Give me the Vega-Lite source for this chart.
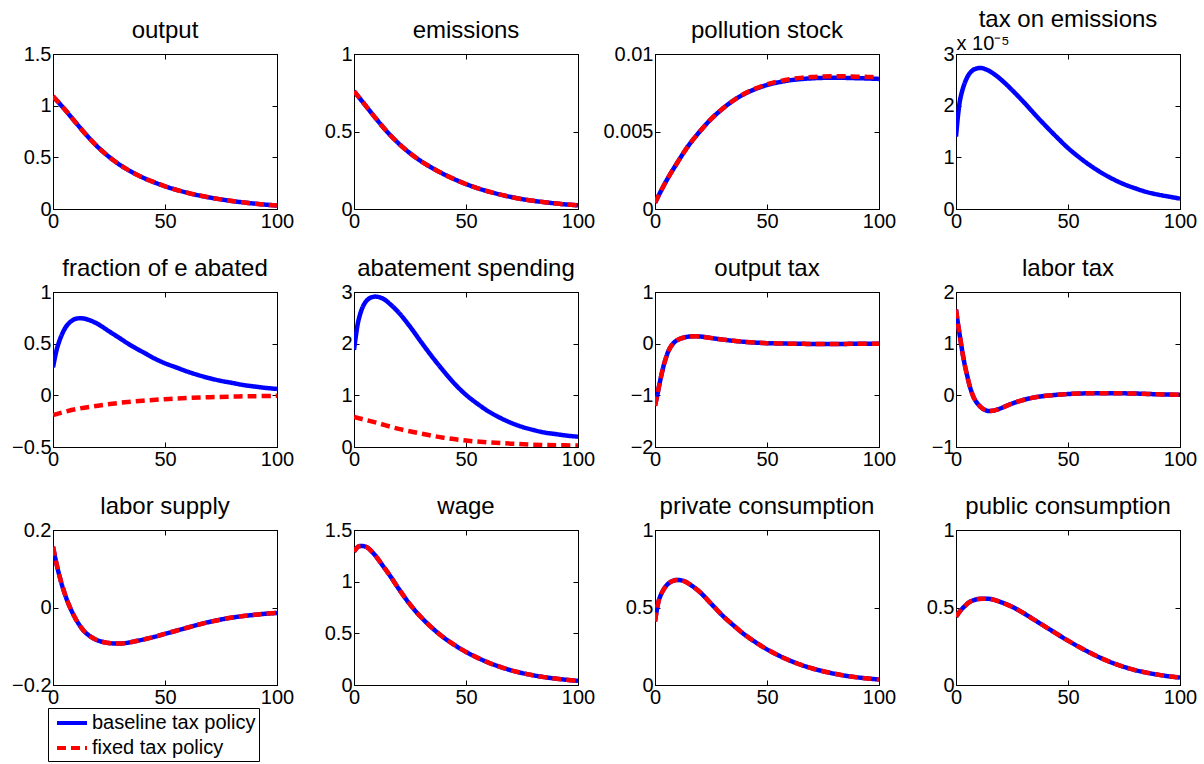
{
  "$schema": "https://vega.github.io/schema/vega-lite/v6.json",
  "background": "white",
  "padding": {"left": 11, "top": 7, "right": 5, "bottom": 5},
  "columns": 4,
  "spacing": {"row": 83, "column": 77},
  "bounds": "flush",
  "data": {"values": [
    {"panel":"output","t":0,"baseline":1.09,"fixed":1.09},
    {"panel":"output","t":5,"baseline":0.97,"fixed":0.97},
    {"panel":"output","t":10,"baseline":0.84,"fixed":0.84},
    {"panel":"output","t":15,"baseline":0.715,"fixed":0.715},
    {"panel":"output","t":20,"baseline":0.60,"fixed":0.60},
    {"panel":"output","t":25,"baseline":0.505,"fixed":0.505},
    {"panel":"output","t":30,"baseline":0.425,"fixed":0.425},
    {"panel":"output","t":35,"baseline":0.36,"fixed":0.36},
    {"panel":"output","t":40,"baseline":0.305,"fixed":0.305},
    {"panel":"output","t":45,"baseline":0.26,"fixed":0.26},
    {"panel":"output","t":50,"baseline":0.22,"fixed":0.22},
    {"panel":"output","t":55,"baseline":0.186,"fixed":0.186},
    {"panel":"output","t":60,"baseline":0.157,"fixed":0.157},
    {"panel":"output","t":65,"baseline":0.132,"fixed":0.132},
    {"panel":"output","t":70,"baseline":0.111,"fixed":0.111},
    {"panel":"output","t":75,"baseline":0.093,"fixed":0.093},
    {"panel":"output","t":80,"baseline":0.077,"fixed":0.077},
    {"panel":"output","t":85,"baseline":0.064,"fixed":0.064},
    {"panel":"output","t":90,"baseline":0.052,"fixed":0.052},
    {"panel":"output","t":95,"baseline":0.042,"fixed":0.042},
    {"panel":"output","t":100,"baseline":0.033,"fixed":0.033},

    {"panel":"emissions","t":0,"baseline":0.76,"fixed":0.76},
    {"panel":"emissions","t":5,"baseline":0.67,"fixed":0.67},
    {"panel":"emissions","t":10,"baseline":0.58,"fixed":0.58},
    {"panel":"emissions","t":15,"baseline":0.495,"fixed":0.495},
    {"panel":"emissions","t":20,"baseline":0.422,"fixed":0.422},
    {"panel":"emissions","t":25,"baseline":0.36,"fixed":0.36},
    {"panel":"emissions","t":30,"baseline":0.308,"fixed":0.308},
    {"panel":"emissions","t":35,"baseline":0.264,"fixed":0.264},
    {"panel":"emissions","t":40,"baseline":0.225,"fixed":0.225},
    {"panel":"emissions","t":45,"baseline":0.191,"fixed":0.191},
    {"panel":"emissions","t":50,"baseline":0.161,"fixed":0.161},
    {"panel":"emissions","t":55,"baseline":0.135,"fixed":0.135},
    {"panel":"emissions","t":60,"baseline":0.113,"fixed":0.113},
    {"panel":"emissions","t":65,"baseline":0.094,"fixed":0.094},
    {"panel":"emissions","t":70,"baseline":0.078,"fixed":0.078},
    {"panel":"emissions","t":75,"baseline":0.064,"fixed":0.064},
    {"panel":"emissions","t":80,"baseline":0.053,"fixed":0.053},
    {"panel":"emissions","t":85,"baseline":0.044,"fixed":0.044},
    {"panel":"emissions","t":90,"baseline":0.036,"fixed":0.036},
    {"panel":"emissions","t":95,"baseline":0.029,"fixed":0.029},
    {"panel":"emissions","t":100,"baseline":0.024,"fixed":0.024},

    {"panel":"pollution stock","t":0,"baseline":0.0004,"fixed":0.0004},
    {"panel":"pollution stock","t":5,"baseline":0.0018,"fixed":0.0018},
    {"panel":"pollution stock","t":10,"baseline":0.0030,"fixed":0.0030},
    {"panel":"pollution stock","t":15,"baseline":0.0041,"fixed":0.0041},
    {"panel":"pollution stock","t":20,"baseline":0.0050,"fixed":0.0050},
    {"panel":"pollution stock","t":25,"baseline":0.0058,"fixed":0.0058},
    {"panel":"pollution stock","t":30,"baseline":0.00645,"fixed":0.00645},
    {"panel":"pollution stock","t":35,"baseline":0.0070,"fixed":0.0070},
    {"panel":"pollution stock","t":40,"baseline":0.00743,"fixed":0.00745},
    {"panel":"pollution stock","t":45,"baseline":0.00775,"fixed":0.00778},
    {"panel":"pollution stock","t":50,"baseline":0.0080,"fixed":0.00805},
    {"panel":"pollution stock","t":55,"baseline":0.00817,"fixed":0.00823},
    {"panel":"pollution stock","t":60,"baseline":0.0083,"fixed":0.00837},
    {"panel":"pollution stock","t":65,"baseline":0.00838,"fixed":0.00846},
    {"panel":"pollution stock","t":70,"baseline":0.00843,"fixed":0.00852},
    {"panel":"pollution stock","t":75,"baseline":0.00846,"fixed":0.00855},
    {"panel":"pollution stock","t":80,"baseline":0.00847,"fixed":0.00856},
    {"panel":"pollution stock","t":85,"baseline":0.00846,"fixed":0.00856},
    {"panel":"pollution stock","t":90,"baseline":0.00844,"fixed":0.00854},
    {"panel":"pollution stock","t":95,"baseline":0.00842,"fixed":0.00852},
    {"panel":"pollution stock","t":100,"baseline":0.00839,"fixed":0.00849},

    {"panel":"tax on emissions","t":0,"baseline":1.4e-5},
    {"panel":"tax on emissions","t":1,"baseline":1.85e-5},
    {"panel":"tax on emissions","t":2,"baseline":2.15e-5},
    {"panel":"tax on emissions","t":4,"baseline":2.45e-5},
    {"panel":"tax on emissions","t":6,"baseline":2.62e-5},
    {"panel":"tax on emissions","t":8,"baseline":2.70e-5},
    {"panel":"tax on emissions","t":11,"baseline":2.73e-5},
    {"panel":"tax on emissions","t":14,"baseline":2.69e-5},
    {"panel":"tax on emissions","t":18,"baseline":2.58e-5},
    {"panel":"tax on emissions","t":22,"baseline":2.43e-5},
    {"panel":"tax on emissions","t":26,"baseline":2.26e-5},
    {"panel":"tax on emissions","t":30,"baseline":2.08e-5},
    {"panel":"tax on emissions","t":35,"baseline":1.84e-5},
    {"panel":"tax on emissions","t":40,"baseline":1.61e-5},
    {"panel":"tax on emissions","t":45,"baseline":1.39e-5},
    {"panel":"tax on emissions","t":50,"baseline":1.18e-5},
    {"panel":"tax on emissions","t":55,"baseline":1.0e-5},
    {"panel":"tax on emissions","t":60,"baseline":0.84e-5},
    {"panel":"tax on emissions","t":65,"baseline":0.70e-5},
    {"panel":"tax on emissions","t":70,"baseline":0.58e-5},
    {"panel":"tax on emissions","t":75,"baseline":0.48e-5},
    {"panel":"tax on emissions","t":80,"baseline":0.40e-5},
    {"panel":"tax on emissions","t":85,"baseline":0.33e-5},
    {"panel":"tax on emissions","t":90,"baseline":0.28e-5},
    {"panel":"tax on emissions","t":95,"baseline":0.24e-5},
    {"panel":"tax on emissions","t":100,"baseline":0.20e-5},

    {"panel":"fraction","t":0,"baseline":0.27,"fixed":-0.19},
    {"panel":"fraction","t":1,"baseline":0.38},
    {"panel":"fraction","t":2,"baseline":0.47},
    {"panel":"fraction","t":4,"baseline":0.59},
    {"panel":"fraction","t":6,"baseline":0.67},
    {"panel":"fraction","t":8,"baseline":0.715},
    {"panel":"fraction","t":10,"baseline":0.74,"fixed":-0.135},
    {"panel":"fraction","t":13,"baseline":0.745},
    {"panel":"fraction","t":16,"baseline":0.73},
    {"panel":"fraction","t":20,"baseline":0.69,"fixed":-0.1},
    {"panel":"fraction","t":25,"baseline":0.62},
    {"panel":"fraction","t":30,"baseline":0.55,"fixed":-0.072},
    {"panel":"fraction","t":35,"baseline":0.48},
    {"panel":"fraction","t":40,"baseline":0.42,"fixed":-0.052},
    {"panel":"fraction","t":45,"baseline":0.36},
    {"panel":"fraction","t":50,"baseline":0.31,"fixed":-0.037},
    {"panel":"fraction","t":55,"baseline":0.27},
    {"panel":"fraction","t":60,"baseline":0.23,"fixed":-0.026},
    {"panel":"fraction","t":65,"baseline":0.195},
    {"panel":"fraction","t":70,"baseline":0.165,"fixed":-0.018},
    {"panel":"fraction","t":75,"baseline":0.14},
    {"panel":"fraction","t":80,"baseline":0.12,"fixed":-0.012},
    {"panel":"fraction","t":85,"baseline":0.1},
    {"panel":"fraction","t":90,"baseline":0.085,"fixed":-0.008},
    {"panel":"fraction","t":95,"baseline":0.072},
    {"panel":"fraction","t":100,"baseline":0.062,"fixed":-0.005},

    {"panel":"abatement spending","t":0,"baseline":1.88,"fixed":0.58},
    {"panel":"abatement spending","t":1,"baseline":2.2},
    {"panel":"abatement spending","t":2,"baseline":2.45},
    {"panel":"abatement spending","t":4,"baseline":2.72},
    {"panel":"abatement spending","t":6,"baseline":2.85},
    {"panel":"abatement spending","t":8,"baseline":2.9},
    {"panel":"abatement spending","t":10,"baseline":2.91,"fixed":0.47},
    {"panel":"abatement spending","t":13,"baseline":2.87},
    {"panel":"abatement spending","t":16,"baseline":2.77},
    {"panel":"abatement spending","t":20,"baseline":2.6,"fixed":0.35},
    {"panel":"abatement spending","t":25,"baseline":2.33},
    {"panel":"abatement spending","t":30,"baseline":2.03,"fixed":0.26},
    {"panel":"abatement spending","t":35,"baseline":1.74},
    {"panel":"abatement spending","t":40,"baseline":1.47,"fixed":0.18},
    {"panel":"abatement spending","t":45,"baseline":1.22},
    {"panel":"abatement spending","t":50,"baseline":1.01,"fixed":0.125},
    {"panel":"abatement spending","t":55,"baseline":0.84},
    {"panel":"abatement spending","t":60,"baseline":0.69,"fixed":0.09},
    {"panel":"abatement spending","t":65,"baseline":0.57},
    {"panel":"abatement spending","t":70,"baseline":0.47,"fixed":0.065},
    {"panel":"abatement spending","t":75,"baseline":0.39},
    {"panel":"abatement spending","t":80,"baseline":0.33,"fixed":0.045},
    {"panel":"abatement spending","t":85,"baseline":0.28},
    {"panel":"abatement spending","t":90,"baseline":0.25,"fixed":0.035},
    {"panel":"abatement spending","t":95,"baseline":0.22},
    {"panel":"abatement spending","t":100,"baseline":0.2,"fixed":0.03},

    {"panel":"output tax","t":0,"baseline":-1.2,"fixed":-1.2},
    {"panel":"output tax","t":1,"baseline":-1.0,"fixed":-1.0},
    {"panel":"output tax","t":2,"baseline":-0.78,"fixed":-0.78},
    {"panel":"output tax","t":3,"baseline":-0.58,"fixed":-0.58},
    {"panel":"output tax","t":4,"baseline":-0.4,"fixed":-0.4},
    {"panel":"output tax","t":5,"baseline":-0.26,"fixed":-0.26},
    {"panel":"output tax","t":6,"baseline":-0.14,"fixed":-0.14},
    {"panel":"output tax","t":8,"baseline":0.0,"fixed":0.0},
    {"panel":"output tax","t":10,"baseline":0.07,"fixed":0.07},
    {"panel":"output tax","t":13,"baseline":0.12,"fixed":0.12},
    {"panel":"output tax","t":16,"baseline":0.14,"fixed":0.14},
    {"panel":"output tax","t":20,"baseline":0.14,"fixed":0.14},
    {"panel":"output tax","t":25,"baseline":0.11,"fixed":0.11},
    {"panel":"output tax","t":30,"baseline":0.08,"fixed":0.08},
    {"panel":"output tax","t":35,"baseline":0.055,"fixed":0.055},
    {"panel":"output tax","t":40,"baseline":0.035,"fixed":0.035},
    {"panel":"output tax","t":45,"baseline":0.02,"fixed":0.02},
    {"panel":"output tax","t":50,"baseline":0.01,"fixed":0.01},
    {"panel":"output tax","t":60,"baseline":0.0,"fixed":0.0},
    {"panel":"output tax","t":70,"baseline":-0.005,"fixed":-0.005},
    {"panel":"output tax","t":80,"baseline":-0.005,"fixed":-0.005},
    {"panel":"output tax","t":90,"baseline":-0.003,"fixed":-0.003},
    {"panel":"output tax","t":100,"baseline":0.0,"fixed":0.0},

    {"panel":"labor tax","t":0,"baseline":1.66,"fixed":1.66},
    {"panel":"labor tax","t":1,"baseline":1.35,"fixed":1.35},
    {"panel":"labor tax","t":2,"baseline":1.07,"fixed":1.07},
    {"panel":"labor tax","t":3,"baseline":0.8,"fixed":0.8},
    {"panel":"labor tax","t":4,"baseline":0.57,"fixed":0.57},
    {"panel":"labor tax","t":5,"baseline":0.38,"fixed":0.38},
    {"panel":"labor tax","t":6,"baseline":0.2,"fixed":0.2},
    {"panel":"labor tax","t":8,"baseline":-0.05,"fixed":-0.05},
    {"panel":"labor tax","t":10,"baseline":-0.18,"fixed":-0.18},
    {"panel":"labor tax","t":12,"baseline":-0.26,"fixed":-0.26},
    {"panel":"labor tax","t":14,"baseline":-0.3,"fixed":-0.3},
    {"panel":"labor tax","t":16,"baseline":-0.3,"fixed":-0.3},
    {"panel":"labor tax","t":18,"baseline":-0.28,"fixed":-0.28},
    {"panel":"labor tax","t":20,"baseline":-0.25,"fixed":-0.25},
    {"panel":"labor tax","t":25,"baseline":-0.16,"fixed":-0.16},
    {"panel":"labor tax","t":30,"baseline":-0.09,"fixed":-0.09},
    {"panel":"labor tax","t":35,"baseline":-0.04,"fixed":-0.04},
    {"panel":"labor tax","t":40,"baseline":-0.01,"fixed":-0.01},
    {"panel":"labor tax","t":45,"baseline":0.01,"fixed":0.01},
    {"panel":"labor tax","t":50,"baseline":0.025,"fixed":0.025},
    {"panel":"labor tax","t":55,"baseline":0.035,"fixed":0.035},
    {"panel":"labor tax","t":60,"baseline":0.04,"fixed":0.04},
    {"panel":"labor tax","t":65,"baseline":0.04,"fixed":0.04},
    {"panel":"labor tax","t":70,"baseline":0.04,"fixed":0.04},
    {"panel":"labor tax","t":80,"baseline":0.035,"fixed":0.035},
    {"panel":"labor tax","t":90,"baseline":0.02,"fixed":0.02},
    {"panel":"labor tax","t":100,"baseline":0.01,"fixed":0.01},

    {"panel":"labor supply","t":0,"baseline":0.157,"fixed":0.157},
    {"panel":"labor supply","t":1,"baseline":0.128,"fixed":0.128},
    {"panel":"labor supply","t":2,"baseline":0.102,"fixed":0.102},
    {"panel":"labor supply","t":3,"baseline":0.079,"fixed":0.079},
    {"panel":"labor supply","t":4,"baseline":0.058,"fixed":0.058},
    {"panel":"labor supply","t":5,"baseline":0.04,"fixed":0.04},
    {"panel":"labor supply","t":6,"baseline":0.023,"fixed":0.023},
    {"panel":"labor supply","t":8,"baseline":-0.005,"fixed":-0.005},
    {"panel":"labor supply","t":10,"baseline":-0.028,"fixed":-0.028},
    {"panel":"labor supply","t":12,"baseline":-0.047,"fixed":-0.047},
    {"panel":"labor supply","t":14,"baseline":-0.062,"fixed":-0.062},
    {"panel":"labor supply","t":17,"baseline":-0.076,"fixed":-0.076},
    {"panel":"labor supply","t":20,"baseline":-0.085,"fixed":-0.085},
    {"panel":"labor supply","t":24,"baseline":-0.091,"fixed":-0.091},
    {"panel":"labor supply","t":28,"baseline":-0.093,"fixed":-0.093},
    {"panel":"labor supply","t":32,"baseline":-0.092,"fixed":-0.092},
    {"panel":"labor supply","t":36,"baseline":-0.088,"fixed":-0.088},
    {"panel":"labor supply","t":40,"baseline":-0.083,"fixed":-0.083},
    {"panel":"labor supply","t":45,"baseline":-0.076,"fixed":-0.076},
    {"panel":"labor supply","t":50,"baseline":-0.068,"fixed":-0.068},
    {"panel":"labor supply","t":55,"baseline":-0.06,"fixed":-0.06},
    {"panel":"labor supply","t":60,"baseline":-0.052,"fixed":-0.052},
    {"panel":"labor supply","t":65,"baseline":-0.044,"fixed":-0.044},
    {"panel":"labor supply","t":70,"baseline":-0.037,"fixed":-0.037},
    {"panel":"labor supply","t":75,"baseline":-0.031,"fixed":-0.031},
    {"panel":"labor supply","t":80,"baseline":-0.026,"fixed":-0.026},
    {"panel":"labor supply","t":85,"baseline":-0.022,"fixed":-0.022},
    {"panel":"labor supply","t":90,"baseline":-0.019,"fixed":-0.019},
    {"panel":"labor supply","t":95,"baseline":-0.016,"fixed":-0.016},
    {"panel":"labor supply","t":100,"baseline":-0.014,"fixed":-0.014},

    {"panel":"wage","t":0,"baseline":1.29,"fixed":1.29},
    {"panel":"wage","t":1,"baseline":1.32,"fixed":1.32},
    {"panel":"wage","t":2,"baseline":1.34,"fixed":1.34},
    {"panel":"wage","t":4,"baseline":1.345,"fixed":1.345},
    {"panel":"wage","t":6,"baseline":1.33,"fixed":1.33},
    {"panel":"wage","t":8,"baseline":1.29,"fixed":1.29},
    {"panel":"wage","t":10,"baseline":1.24,"fixed":1.24},
    {"panel":"wage","t":13,"baseline":1.15,"fixed":1.15},
    {"panel":"wage","t":16,"baseline":1.06,"fixed":1.06},
    {"panel":"wage","t":20,"baseline":0.93,"fixed":0.93},
    {"panel":"wage","t":25,"baseline":0.78,"fixed":0.78},
    {"panel":"wage","t":30,"baseline":0.655,"fixed":0.655},
    {"panel":"wage","t":35,"baseline":0.55,"fixed":0.55},
    {"panel":"wage","t":40,"baseline":0.46,"fixed":0.46},
    {"panel":"wage","t":45,"baseline":0.385,"fixed":0.385},
    {"panel":"wage","t":50,"baseline":0.32,"fixed":0.32},
    {"panel":"wage","t":55,"baseline":0.265,"fixed":0.265},
    {"panel":"wage","t":60,"baseline":0.217,"fixed":0.217},
    {"panel":"wage","t":65,"baseline":0.177,"fixed":0.177},
    {"panel":"wage","t":70,"baseline":0.143,"fixed":0.143},
    {"panel":"wage","t":75,"baseline":0.116,"fixed":0.116},
    {"panel":"wage","t":80,"baseline":0.094,"fixed":0.094},
    {"panel":"wage","t":85,"baseline":0.076,"fixed":0.076},
    {"panel":"wage","t":90,"baseline":0.062,"fixed":0.062},
    {"panel":"wage","t":95,"baseline":0.05,"fixed":0.05},
    {"panel":"wage","t":100,"baseline":0.04,"fixed":0.04},

    {"panel":"private consumption","t":0,"baseline":0.41,"fixed":0.41},
    {"panel":"private consumption","t":1,"baseline":0.5,"fixed":0.5},
    {"panel":"private consumption","t":2,"baseline":0.56,"fixed":0.56},
    {"panel":"private consumption","t":4,"baseline":0.62,"fixed":0.62},
    {"panel":"private consumption","t":6,"baseline":0.655,"fixed":0.655},
    {"panel":"private consumption","t":8,"baseline":0.672,"fixed":0.672},
    {"panel":"private consumption","t":10,"baseline":0.678,"fixed":0.678},
    {"panel":"private consumption","t":13,"baseline":0.67,"fixed":0.67},
    {"panel":"private consumption","t":16,"baseline":0.645,"fixed":0.645},
    {"panel":"private consumption","t":20,"baseline":0.6,"fixed":0.6},
    {"panel":"private consumption","t":25,"baseline":0.525,"fixed":0.525},
    {"panel":"private consumption","t":30,"baseline":0.45,"fixed":0.45},
    {"panel":"private consumption","t":35,"baseline":0.385,"fixed":0.385},
    {"panel":"private consumption","t":40,"baseline":0.325,"fixed":0.325},
    {"panel":"private consumption","t":45,"baseline":0.275,"fixed":0.275},
    {"panel":"private consumption","t":50,"baseline":0.23,"fixed":0.23},
    {"panel":"private consumption","t":55,"baseline":0.192,"fixed":0.192},
    {"panel":"private consumption","t":60,"baseline":0.159,"fixed":0.159},
    {"panel":"private consumption","t":65,"baseline":0.131,"fixed":0.131},
    {"panel":"private consumption","t":70,"baseline":0.108,"fixed":0.108},
    {"panel":"private consumption","t":75,"baseline":0.089,"fixed":0.089},
    {"panel":"private consumption","t":80,"baseline":0.073,"fixed":0.073},
    {"panel":"private consumption","t":85,"baseline":0.06,"fixed":0.06},
    {"panel":"private consumption","t":90,"baseline":0.05,"fixed":0.05},
    {"panel":"private consumption","t":95,"baseline":0.042,"fixed":0.042},
    {"panel":"private consumption","t":100,"baseline":0.036,"fixed":0.036},

    {"panel":"public consumption","t":0,"baseline":0.44,"fixed":0.44},
    {"panel":"public consumption","t":2,"baseline":0.48,"fixed":0.48},
    {"panel":"public consumption","t":4,"baseline":0.51,"fixed":0.51},
    {"panel":"public consumption","t":6,"baseline":0.535,"fixed":0.535},
    {"panel":"public consumption","t":8,"baseline":0.548,"fixed":0.548},
    {"panel":"public consumption","t":10,"baseline":0.555,"fixed":0.555},
    {"panel":"public consumption","t":13,"baseline":0.557,"fixed":0.557},
    {"panel":"public consumption","t":16,"baseline":0.553,"fixed":0.553},
    {"panel":"public consumption","t":20,"baseline":0.535,"fixed":0.535},
    {"panel":"public consumption","t":25,"baseline":0.505,"fixed":0.505},
    {"panel":"public consumption","t":30,"baseline":0.465,"fixed":0.465},
    {"panel":"public consumption","t":35,"baseline":0.42,"fixed":0.42},
    {"panel":"public consumption","t":40,"baseline":0.375,"fixed":0.375},
    {"panel":"public consumption","t":45,"baseline":0.33,"fixed":0.33},
    {"panel":"public consumption","t":50,"baseline":0.286,"fixed":0.286},
    {"panel":"public consumption","t":55,"baseline":0.245,"fixed":0.245},
    {"panel":"public consumption","t":60,"baseline":0.207,"fixed":0.207},
    {"panel":"public consumption","t":65,"baseline":0.172,"fixed":0.172},
    {"panel":"public consumption","t":70,"baseline":0.142,"fixed":0.142},
    {"panel":"public consumption","t":75,"baseline":0.117,"fixed":0.117},
    {"panel":"public consumption","t":80,"baseline":0.096,"fixed":0.096},
    {"panel":"public consumption","t":85,"baseline":0.08,"fixed":0.08},
    {"panel":"public consumption","t":90,"baseline":0.067,"fixed":0.067},
    {"panel":"public consumption","t":95,"baseline":0.056,"fixed":0.056},
    {"panel":"public consumption","t":100,"baseline":0.048,"fixed":0.048}
  ]},
  "concat": [
    {"title":"output","width":224,"height":155,
     "transform":[{"filter":"datum.panel === 'output'"},{"fold":["baseline","fixed"],"as":["policy","value"]},{"filter":"isValid(datum.value)"}],
     "layer":[
      {"mark":{"type":"line","strokeWidth":4.5,"interpolate":"catmull-rom","clip":true},
       "encoding":{"x":{"field":"t","type":"quantitative","scale":{"domain":[0,100],"nice":false},"axis":{"values":[0,50,100],"title":null}},
        "y":{"field":"value","type":"quantitative","scale":{"domain":[0,1.5],"nice":false},"axis":{"values":[0,0.5,1,1.5],"title":null,"format":"~g"}},
        "color":{"field":"policy","type":"nominal","scale":{"domain":["baseline","fixed"],"range":["#0000ff","#ff0000"]},"legend":{"labelExpr":"datum.label === 'baseline' ? 'baseline tax policy' : 'fixed tax policy'"}},
        "strokeDash":{"field":"policy","type":"nominal","scale":{"domain":["baseline","fixed"],"range":[[1,0],[9,5]]}}}},
      {"mark":{"type":"point","opacity":0},
       "encoding":{"x":{"field":"t","type":"quantitative","axis":{"orient":"top","values":[0,50,100],"labels":false,"title":null}},
        "y":{"field":"value","type":"quantitative","axis":{"orient":"right","values":[0,0.5,1,1.5],"labels":false,"title":null}}}}
     ],
     "resolve":{"axis":{"x":"independent","y":"independent"}}},
    {"title":"emissions","width":224,"height":155,
     "transform":[{"filter":"datum.panel === 'emissions'"},{"fold":["baseline","fixed"],"as":["policy","value"]},{"filter":"isValid(datum.value)"}],
     "layer":[
      {"mark":{"type":"line","strokeWidth":4.5,"interpolate":"catmull-rom","clip":true},
       "encoding":{"x":{"field":"t","type":"quantitative","scale":{"domain":[0,100],"nice":false},"axis":{"values":[0,50,100],"title":null}},
        "y":{"field":"value","type":"quantitative","scale":{"domain":[0,1],"nice":false},"axis":{"values":[0,0.5,1],"title":null,"format":"~g"}},
        "color":{"field":"policy","type":"nominal","scale":{"domain":["baseline","fixed"],"range":["#0000ff","#ff0000"]},"legend":{"labelExpr":"datum.label === 'baseline' ? 'baseline tax policy' : 'fixed tax policy'"}},
        "strokeDash":{"field":"policy","type":"nominal","scale":{"domain":["baseline","fixed"],"range":[[1,0],[9,5]]}}}},
      {"mark":{"type":"point","opacity":0},
       "encoding":{"x":{"field":"t","type":"quantitative","axis":{"orient":"top","values":[0,50,100],"labels":false,"title":null}},
        "y":{"field":"value","type":"quantitative","axis":{"orient":"right","values":[0,0.5,1],"labels":false,"title":null}}}}
     ],
     "resolve":{"axis":{"x":"independent","y":"independent"}}},
    {"title":"pollution stock","width":224,"height":155,
     "transform":[{"filter":"datum.panel === 'pollution stock'"},{"fold":["baseline","fixed"],"as":["policy","value"]},{"filter":"isValid(datum.value)"}],
     "layer":[
      {"mark":{"type":"line","strokeWidth":4.5,"interpolate":"catmull-rom","clip":true},
       "encoding":{"x":{"field":"t","type":"quantitative","scale":{"domain":[0,100],"nice":false},"axis":{"values":[0,50,100],"title":null}},
        "y":{"field":"value","type":"quantitative","scale":{"domain":[0,0.01],"nice":false},"axis":{"values":[0,0.005,0.01],"title":null,"format":"~g"}},
        "color":{"field":"policy","type":"nominal","scale":{"domain":["baseline","fixed"],"range":["#0000ff","#ff0000"]},"legend":{"labelExpr":"datum.label === 'baseline' ? 'baseline tax policy' : 'fixed tax policy'"}},
        "strokeDash":{"field":"policy","type":"nominal","scale":{"domain":["baseline","fixed"],"range":[[1,0],[9,5]]}}}},
      {"mark":{"type":"point","opacity":0},
       "encoding":{"x":{"field":"t","type":"quantitative","axis":{"orient":"top","values":[0,50,100],"labels":false,"title":null}},
        "y":{"field":"value","type":"quantitative","axis":{"orient":"right","values":[0,0.005,0.01],"labels":false,"title":null}}}}
     ],
     "resolve":{"axis":{"x":"independent","y":"independent"}}},
    {"title":"tax on emissions","width":224,"height":155,
     "transform":[{"filter":"datum.panel === 'tax on emissions'"},{"fold":["baseline","fixed"],"as":["policy","value"]},{"filter":"isValid(datum.value)"}],
     "layer":[
      {"mark":{"type":"line","strokeWidth":4.5,"interpolate":"catmull-rom","clip":true},
       "encoding":{"x":{"field":"t","type":"quantitative","scale":{"domain":[0,100],"nice":false},"axis":{"values":[0,50,100],"title":null}},
        "y":{"field":"value","type":"quantitative","scale":{"domain":[0,0.00003],"nice":false},"axis":{"values":[0,0.00001,0.00002,0.00003],"labelExpr":"format(datum.value * 100000, '.0f')","title":"x 10\u207b\u2075","titleAngle":0,"titleAlign":"left","titleBaseline":"alphabetic","titleX":0,"titleY":-5,"titleFontSize":20,"titleFontWeight":"normal"}},
        "color":{"field":"policy","type":"nominal","scale":{"domain":["baseline","fixed"],"range":["#0000ff","#ff0000"]},"legend":{"labelExpr":"datum.label === 'baseline' ? 'baseline tax policy' : 'fixed tax policy'"}},
        "strokeDash":{"field":"policy","type":"nominal","scale":{"domain":["baseline","fixed"],"range":[[1,0],[9,5]]}}}},
      {"mark":{"type":"point","opacity":0},
       "encoding":{"x":{"field":"t","type":"quantitative","axis":{"orient":"top","values":[0,50,100],"labels":false,"title":null}},
        "y":{"field":"value","type":"quantitative","axis":{"orient":"right","values":[0,0.00001,0.00002,0.00003],"labels":false,"title":null}}}}
     ],
     "resolve":{"axis":{"x":"independent","y":"independent"}}},
    {"title":"fraction of e abated","width":224,"height":155,
     "transform":[{"filter":"datum.panel === 'fraction'"},{"fold":["baseline","fixed"],"as":["policy","value"]},{"filter":"isValid(datum.value)"}],
     "layer":[
      {"mark":{"type":"line","strokeWidth":4.5,"interpolate":"catmull-rom","clip":true},
       "encoding":{"x":{"field":"t","type":"quantitative","scale":{"domain":[0,100],"nice":false},"axis":{"values":[0,50,100],"title":null}},
        "y":{"field":"value","type":"quantitative","scale":{"domain":[-0.5,1],"nice":false},"axis":{"values":[-0.5,0,0.5,1],"title":null,"format":"~g"}},
        "color":{"field":"policy","type":"nominal","scale":{"domain":["baseline","fixed"],"range":["#0000ff","#ff0000"]},"legend":{"labelExpr":"datum.label === 'baseline' ? 'baseline tax policy' : 'fixed tax policy'"}},
        "strokeDash":{"field":"policy","type":"nominal","scale":{"domain":["baseline","fixed"],"range":[[1,0],[9,5]]}}}},
      {"mark":{"type":"point","opacity":0},
       "encoding":{"x":{"field":"t","type":"quantitative","axis":{"orient":"top","values":[0,50,100],"labels":false,"title":null}},
        "y":{"field":"value","type":"quantitative","axis":{"orient":"right","values":[-0.5,0,0.5,1],"labels":false,"title":null}}}}
     ],
     "resolve":{"axis":{"x":"independent","y":"independent"}}},
    {"title":"abatement spending","width":224,"height":155,
     "transform":[{"filter":"datum.panel === 'abatement spending'"},{"fold":["baseline","fixed"],"as":["policy","value"]},{"filter":"isValid(datum.value)"}],
     "layer":[
      {"mark":{"type":"line","strokeWidth":4.5,"interpolate":"catmull-rom","clip":true},
       "encoding":{"x":{"field":"t","type":"quantitative","scale":{"domain":[0,100],"nice":false},"axis":{"values":[0,50,100],"title":null}},
        "y":{"field":"value","type":"quantitative","scale":{"domain":[0,3],"nice":false},"axis":{"values":[0,1,2,3],"title":null,"format":"~g"}},
        "color":{"field":"policy","type":"nominal","scale":{"domain":["baseline","fixed"],"range":["#0000ff","#ff0000"]},"legend":{"labelExpr":"datum.label === 'baseline' ? 'baseline tax policy' : 'fixed tax policy'"}},
        "strokeDash":{"field":"policy","type":"nominal","scale":{"domain":["baseline","fixed"],"range":[[1,0],[9,5]]}}}},
      {"mark":{"type":"point","opacity":0},
       "encoding":{"x":{"field":"t","type":"quantitative","axis":{"orient":"top","values":[0,50,100],"labels":false,"title":null}},
        "y":{"field":"value","type":"quantitative","axis":{"orient":"right","values":[0,1,2,3],"labels":false,"title":null}}}}
     ],
     "resolve":{"axis":{"x":"independent","y":"independent"}}},
    {"title":"output tax","width":224,"height":155,
     "transform":[{"filter":"datum.panel === 'output tax'"},{"fold":["baseline","fixed"],"as":["policy","value"]},{"filter":"isValid(datum.value)"}],
     "layer":[
      {"mark":{"type":"line","strokeWidth":4.5,"interpolate":"catmull-rom","clip":true},
       "encoding":{"x":{"field":"t","type":"quantitative","scale":{"domain":[0,100],"nice":false},"axis":{"values":[0,50,100],"title":null}},
        "y":{"field":"value","type":"quantitative","scale":{"domain":[-2,1],"nice":false},"axis":{"values":[-2,-1,0,1],"title":null,"format":"~g"}},
        "color":{"field":"policy","type":"nominal","scale":{"domain":["baseline","fixed"],"range":["#0000ff","#ff0000"]},"legend":{"labelExpr":"datum.label === 'baseline' ? 'baseline tax policy' : 'fixed tax policy'"}},
        "strokeDash":{"field":"policy","type":"nominal","scale":{"domain":["baseline","fixed"],"range":[[1,0],[9,5]]}}}},
      {"mark":{"type":"point","opacity":0},
       "encoding":{"x":{"field":"t","type":"quantitative","axis":{"orient":"top","values":[0,50,100],"labels":false,"title":null}},
        "y":{"field":"value","type":"quantitative","axis":{"orient":"right","values":[-2,-1,0,1],"labels":false,"title":null}}}}
     ],
     "resolve":{"axis":{"x":"independent","y":"independent"}}},
    {"title":"labor tax","width":224,"height":155,
     "transform":[{"filter":"datum.panel === 'labor tax'"},{"fold":["baseline","fixed"],"as":["policy","value"]},{"filter":"isValid(datum.value)"}],
     "layer":[
      {"mark":{"type":"line","strokeWidth":4.5,"interpolate":"catmull-rom","clip":true},
       "encoding":{"x":{"field":"t","type":"quantitative","scale":{"domain":[0,100],"nice":false},"axis":{"values":[0,50,100],"title":null}},
        "y":{"field":"value","type":"quantitative","scale":{"domain":[-1,2],"nice":false},"axis":{"values":[-1,0,1,2],"title":null,"format":"~g"}},
        "color":{"field":"policy","type":"nominal","scale":{"domain":["baseline","fixed"],"range":["#0000ff","#ff0000"]},"legend":{"labelExpr":"datum.label === 'baseline' ? 'baseline tax policy' : 'fixed tax policy'"}},
        "strokeDash":{"field":"policy","type":"nominal","scale":{"domain":["baseline","fixed"],"range":[[1,0],[9,5]]}}}},
      {"mark":{"type":"point","opacity":0},
       "encoding":{"x":{"field":"t","type":"quantitative","axis":{"orient":"top","values":[0,50,100],"labels":false,"title":null}},
        "y":{"field":"value","type":"quantitative","axis":{"orient":"right","values":[-1,0,1,2],"labels":false,"title":null}}}}
     ],
     "resolve":{"axis":{"x":"independent","y":"independent"}}},
    {"title":"labor supply","width":224,"height":155,
     "transform":[{"filter":"datum.panel === 'labor supply'"},{"fold":["baseline","fixed"],"as":["policy","value"]},{"filter":"isValid(datum.value)"}],
     "layer":[
      {"mark":{"type":"line","strokeWidth":4.5,"interpolate":"catmull-rom","clip":true},
       "encoding":{"x":{"field":"t","type":"quantitative","scale":{"domain":[0,100],"nice":false},"axis":{"values":[0,50,100],"title":null}},
        "y":{"field":"value","type":"quantitative","scale":{"domain":[-0.2,0.2],"nice":false},"axis":{"values":[-0.2,0,0.2],"title":null,"format":"~g"}},
        "color":{"field":"policy","type":"nominal","scale":{"domain":["baseline","fixed"],"range":["#0000ff","#ff0000"]},"legend":{"labelExpr":"datum.label === 'baseline' ? 'baseline tax policy' : 'fixed tax policy'"}},
        "strokeDash":{"field":"policy","type":"nominal","scale":{"domain":["baseline","fixed"],"range":[[1,0],[9,5]]}}}},
      {"mark":{"type":"point","opacity":0},
       "encoding":{"x":{"field":"t","type":"quantitative","axis":{"orient":"top","values":[0,50,100],"labels":false,"title":null}},
        "y":{"field":"value","type":"quantitative","axis":{"orient":"right","values":[-0.2,0,0.2],"labels":false,"title":null}}}}
     ],
     "resolve":{"axis":{"x":"independent","y":"independent"}}},
    {"title":"wage","width":224,"height":155,
     "transform":[{"filter":"datum.panel === 'wage'"},{"fold":["baseline","fixed"],"as":["policy","value"]},{"filter":"isValid(datum.value)"}],
     "layer":[
      {"mark":{"type":"line","strokeWidth":4.5,"interpolate":"catmull-rom","clip":true},
       "encoding":{"x":{"field":"t","type":"quantitative","scale":{"domain":[0,100],"nice":false},"axis":{"values":[0,50,100],"title":null}},
        "y":{"field":"value","type":"quantitative","scale":{"domain":[0,1.5],"nice":false},"axis":{"values":[0,0.5,1,1.5],"title":null,"format":"~g"}},
        "color":{"field":"policy","type":"nominal","scale":{"domain":["baseline","fixed"],"range":["#0000ff","#ff0000"]},"legend":{"labelExpr":"datum.label === 'baseline' ? 'baseline tax policy' : 'fixed tax policy'"}},
        "strokeDash":{"field":"policy","type":"nominal","scale":{"domain":["baseline","fixed"],"range":[[1,0],[9,5]]}}}},
      {"mark":{"type":"point","opacity":0},
       "encoding":{"x":{"field":"t","type":"quantitative","axis":{"orient":"top","values":[0,50,100],"labels":false,"title":null}},
        "y":{"field":"value","type":"quantitative","axis":{"orient":"right","values":[0,0.5,1,1.5],"labels":false,"title":null}}}}
     ],
     "resolve":{"axis":{"x":"independent","y":"independent"}}},
    {"title":"private consumption","width":224,"height":155,
     "transform":[{"filter":"datum.panel === 'private consumption'"},{"fold":["baseline","fixed"],"as":["policy","value"]},{"filter":"isValid(datum.value)"}],
     "layer":[
      {"mark":{"type":"line","strokeWidth":4.5,"interpolate":"catmull-rom","clip":true},
       "encoding":{"x":{"field":"t","type":"quantitative","scale":{"domain":[0,100],"nice":false},"axis":{"values":[0,50,100],"title":null}},
        "y":{"field":"value","type":"quantitative","scale":{"domain":[0,1],"nice":false},"axis":{"values":[0,0.5,1],"title":null,"format":"~g"}},
        "color":{"field":"policy","type":"nominal","scale":{"domain":["baseline","fixed"],"range":["#0000ff","#ff0000"]},"legend":{"labelExpr":"datum.label === 'baseline' ? 'baseline tax policy' : 'fixed tax policy'"}},
        "strokeDash":{"field":"policy","type":"nominal","scale":{"domain":["baseline","fixed"],"range":[[1,0],[9,5]]}}}},
      {"mark":{"type":"point","opacity":0},
       "encoding":{"x":{"field":"t","type":"quantitative","axis":{"orient":"top","values":[0,50,100],"labels":false,"title":null}},
        "y":{"field":"value","type":"quantitative","axis":{"orient":"right","values":[0,0.5,1],"labels":false,"title":null}}}}
     ],
     "resolve":{"axis":{"x":"independent","y":"independent"}}},
    {"title":"public consumption","width":224,"height":155,
     "transform":[{"filter":"datum.panel === 'public consumption'"},{"fold":["baseline","fixed"],"as":["policy","value"]},{"filter":"isValid(datum.value)"}],
     "layer":[
      {"mark":{"type":"line","strokeWidth":4.5,"interpolate":"catmull-rom","clip":true},
       "encoding":{"x":{"field":"t","type":"quantitative","scale":{"domain":[0,100],"nice":false},"axis":{"values":[0,50,100],"title":null}},
        "y":{"field":"value","type":"quantitative","scale":{"domain":[0,1],"nice":false},"axis":{"values":[0,0.5,1],"title":null,"format":"~g"}},
        "color":{"field":"policy","type":"nominal","scale":{"domain":["baseline","fixed"],"range":["#0000ff","#ff0000"]},"legend":{"labelExpr":"datum.label === 'baseline' ? 'baseline tax policy' : 'fixed tax policy'"}},
        "strokeDash":{"field":"policy","type":"nominal","scale":{"domain":["baseline","fixed"],"range":[[1,0],[9,5]]}}}},
      {"mark":{"type":"point","opacity":0},
       "encoding":{"x":{"field":"t","type":"quantitative","axis":{"orient":"top","values":[0,50,100],"labels":false,"title":null}},
        "y":{"field":"value","type":"quantitative","axis":{"orient":"right","values":[0,0.5,1],"labels":false,"title":null}}}}
     ],
     "resolve":{"axis":{"x":"independent","y":"independent"}}}
  ],
  "config": {
    "font": "Liberation Sans",
    "view": {"stroke": "black", "strokeWidth": 1},
    "axis": {
      "domainColor": "black", "domainWidth": 1,
      "tickColor": "black", "tickWidth": 1, "tickSize": -5,
      "labelFont": "Liberation Sans", "labelFontSize": 20, "labelColor": "black",
      "labelPadding": 7, "labelFlush": false, "labelOverlap": false, "labelBound": false,
      "grid": false, "titleColor": "black", "titleFont": "Liberation Sans"
    },
    "title": {"font": "Liberation Sans", "fontSize": 24, "fontWeight": "normal", "color": "black", "offset": 1, "frame": "group"},
    "legend": {
      "orient": "none", "legendX": -5, "legendY": 654,
      "title": null, "direction": "vertical",
      "strokeColor": "black", "fillColor": "white", "padding": 3,
      "labelFont": "Liberation Sans", "labelFontSize": 20, "labelColor": "black", "labelOffset": 8, "labelLimit": 0,
      "symbolType": "M-1.5,0H1.5", "symbolSize": 400, "symbolStrokeWidth": 4, "symbolOffset": 9, "rowPadding": 3
    }
  }
}
